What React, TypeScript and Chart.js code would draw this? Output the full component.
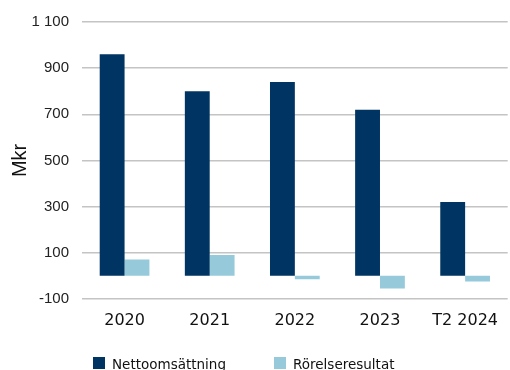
import React, { useEffect, useRef } from "react";
import { Chart, registerables } from "chart.js";

Chart.register(...registerables);

const categories = ["2020", "2021", "2022", "2023", "T2 2024"];
const nettoomsattning = [960, 800, 840, 720, 320];
const rorelseresultat = [70, 90, -15, -55, -25];
const seriesNames = ["Nettoomsättning", "Rörelseresultat"];
const seriesColors = ["#003462", "#96CADB"];
const yMin = -100;
const yMax = 1100;
const yStep = 200;

const legendStarts = [93, 274];

const customLegend = {
  id: "customLegend",
  afterDraw(chart: any) {
    const ctx = chart.ctx as CanvasRenderingContext2D;
    ctx.save();
    chart.data.datasets.forEach((ds: any, i: number) => {
      const x = legendStarts[i];
      const y = 357;
      ctx.fillStyle = ds.backgroundColor;
      ctx.fillRect(x, y, 12, 12);
      ctx.fillStyle = "#111";
      ctx.font = "13.5px 'DejaVu Sans'";
      ctx.textBaseline = "alphabetic";
      ctx.textAlign = "left";
      ctx.fillText(ds.label, x + 19, 369);
    });
    ctx.restore();
  },
};

export default function App() {
  const ref = useRef<HTMLCanvasElement | null>(null);
  useEffect(() => {
    document.body.style.margin = "0";
    const ctx = ref.current!;
    const chart = new Chart(ctx, {
      type: "bar",
      data: {
        labels: categories,
        datasets: [
          {
            label: seriesNames[0],
            data: nettoomsattning,
            backgroundColor: seriesColors[0],
            borderWidth: 0,
          },
          {
            label: seriesNames[1],
            data: rorelseresultat,
            backgroundColor: seriesColors[1],
            borderWidth: 0,
          },
        ],
      },
      options: {
        responsive: false,
        animation: false,
        layout: { padding: { left: 0, right: 0, top: 14, bottom: 28 } },
        datasets: {
          bar: { categoryPercentage: 0.584, barPercentage: 1 },
        } as any,
        scales: {
          x: {
            grid: { display: false, drawTicks: false },
            border: { display: false },
            ticks: {
              color: "#111",
              font: { family: "DejaVu Sans", size: 16 },
              padding: 12,
            },
          },
          y: {
            min: yMin,
            max: yMax,
            afterFit: (s: any) => {
              s.width = 82;
            },
            grid: {
              color: "#c4c4c4",
              lineWidth: 1.5,
              drawTicks: false,
            },
            border: { display: false },
            ticks: {
              stepSize: yStep,
              padding: 13,
              color: "#222",
              font: { family: "Liberation Sans", size: 15 },
              callback: (v: any) => {
                const n = Number(v);
                const s = Math.abs(n).toString().replace(/\B(?=(\d{3})+(?!\d))/g, " ");
                return (n < 0 ? "-" : "") + s;
              },
            },
            title: {
              display: true,
              text: "Mkr",
              color: "#111",
              font: { family: "Liberation Sans", size: 20 },
              padding: { top: 8, bottom: 4 },
            },
          },
        },
        plugins: {
          legend: { display: false },
          tooltip: { enabled: false },
        },
      },
      plugins: [customLegend],
    });
    return () => chart.destroy();
  }, []);
  return (
    <div style={{ width: 510, height: 370, overflow: "hidden", position: "relative", background: "#fff" }}>
      <canvas ref={ref} width={510} height={370} style={{ position: "absolute", left: 0, top: 0 }} />
    </div>
  );
}
